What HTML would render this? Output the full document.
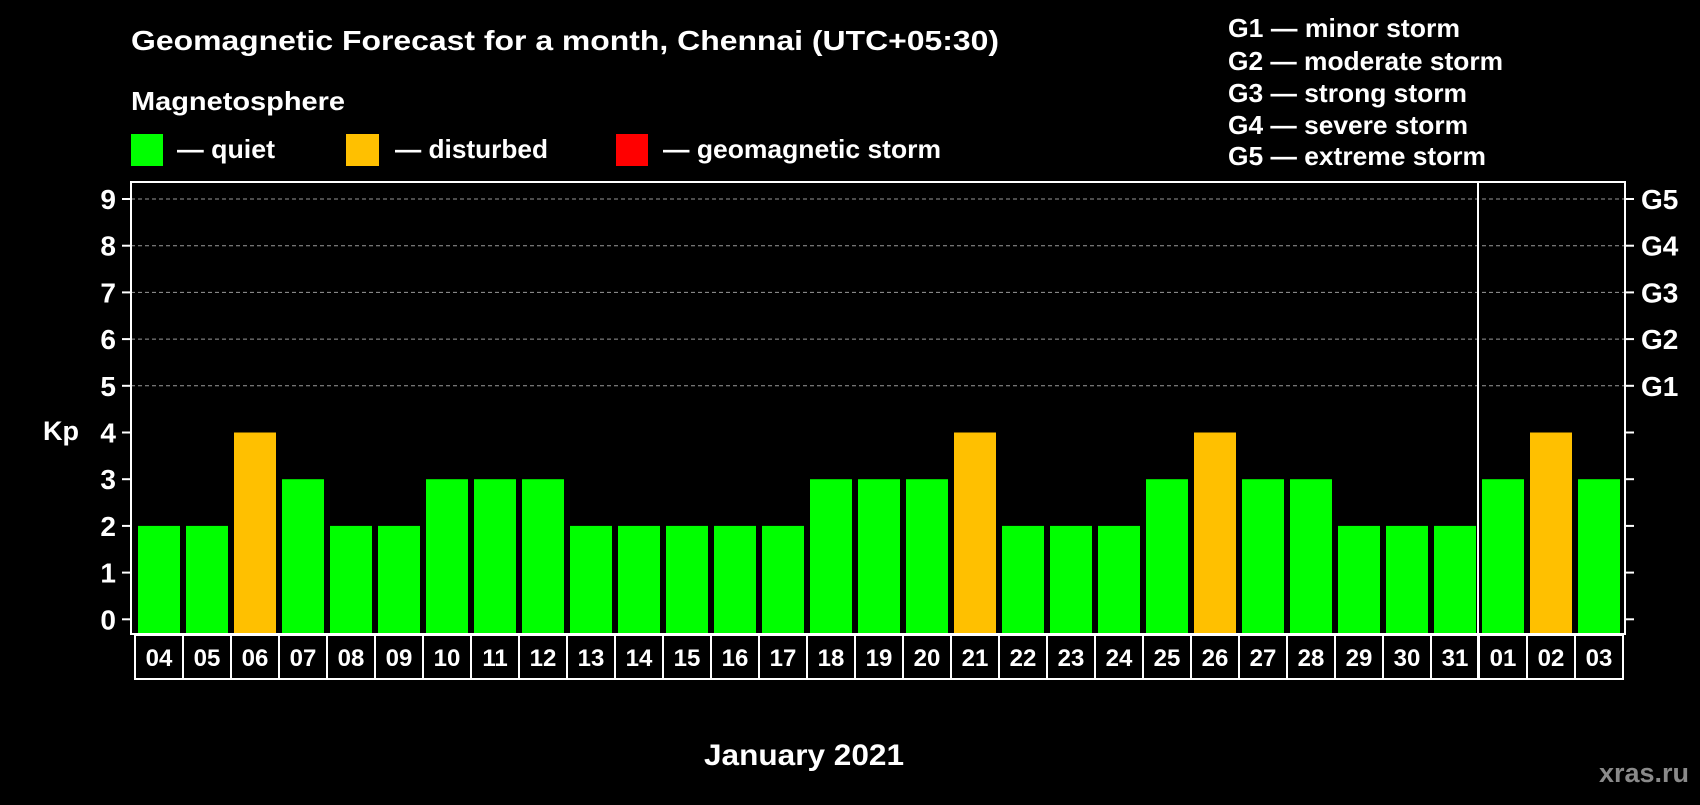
<!DOCTYPE html>
<html><head><meta charset="utf-8"><style>
body{margin:0;background:#000;width:1700px;height:800px;overflow:hidden;font-family:"Liberation Sans",sans-serif;font-weight:bold;color:#fff}
svg text{font-family:"Liberation Sans",Arial,sans-serif;font-weight:bold;fill:#fff}
</style></head><body>
<svg width="1700" height="800">
<text x="131" y="50" font-size="28" textLength="868" lengthAdjust="spacingAndGlyphs">Geomagnetic Forecast for a month, Chennai (UTC+05:30)</text>
<text x="131" y="110" font-size="26" textLength="214" lengthAdjust="spacingAndGlyphs">Magnetosphere</text>
<rect x="131" y="134" width="32" height="32" fill="#00ff00"/>
<text x="177" y="158" font-size="26" textLength="98" lengthAdjust="spacingAndGlyphs">— quiet</text>
<rect x="346" y="134" width="33" height="32" fill="#ffc000"/>
<text x="395" y="158" font-size="26" textLength="153" lengthAdjust="spacingAndGlyphs">— disturbed</text>
<rect x="616" y="134" width="32" height="32" fill="#ff0000"/>
<text x="663" y="158" font-size="26" textLength="278" lengthAdjust="spacingAndGlyphs">— geomagnetic storm</text>
<g font-size="26">
<text x="1228" y="37" textLength="232" lengthAdjust="spacingAndGlyphs">G1 — minor storm</text>
<text x="1228" y="70" textLength="275" lengthAdjust="spacingAndGlyphs">G2 — moderate storm</text>
<text x="1228" y="102" textLength="239" lengthAdjust="spacingAndGlyphs">G3 — strong storm</text>
<text x="1228" y="134" textLength="240" lengthAdjust="spacingAndGlyphs">G4 — severe storm</text>
<text x="1228" y="165" textLength="258" lengthAdjust="spacingAndGlyphs">G5 — extreme storm</text>
</g>
<text x="43" y="440" font-size="27">Kp</text>
<text x="804" y="765" font-size="30" text-anchor="middle" textLength="200" lengthAdjust="spacingAndGlyphs">January 2021</text>
<text x="1689" y="782" font-size="27" text-anchor="end" style="fill:#8a8a8a">xras.ru</text>
<g id="grid"></g><g id="bars"></g><g id="axes"></g>
</svg>
<script>
const days=["04","05","06","07","08","09","10","11","12","13","14","15","16","17","18","19","20","21","22","23","24","25","26","27","28","29","30","31","01","02","03"];
const kp=[2,2,4,3,2,2,3,3,3,2,2,2,2,2,3,3,3,4,2,2,2,3,4,3,3,2,2,2,3,4,3];
const yTicks=[0,1,2,3,4,5,6,7,8,9];
const gLabels=["G1","G2","G3","G4","G5"];
const NS="http://www.w3.org/2000/svg";
const L=131,R=1625,T=182,B=634,x0=135,slot=48;
function y(v){return 619.3-v*46.7;}
function x(i){return x0+i*slot;}
function mk(t,a,p){const e=document.createElementNS(NS,t);for(const k in a)e.setAttribute(k,a[k]);p.appendChild(e);return e;}
const grid=document.getElementById('grid'),bars=document.getElementById('bars'),axes=document.getElementById('axes');
yTicks.forEach(v=>{
 if(v>=5){const g=mk('line',{x1:L,x2:R,y1:y(v),y2:y(v),stroke:'#999','stroke-dasharray':'4 3','stroke-width':1},grid);
 
 }
 const t=mk('line',{x1:122,x2:L,y1:y(v),y2:y(v),stroke:'#fff','stroke-width':2},axes);
 
 
 const t2=mk('line',{x1:R,x2:1634,y1:y(v),y2:y(v),stroke:'#fff','stroke-width':2},axes);
 
 
 const lb=mk('text',{x:116,y:y(v)+10,'font-size':28,'text-anchor':'end'},axes);lb.textContent=v;
 
 
});
gLabels.forEach((g,i)=>{const lb=mk('text',{x:1641,y:y(5+i)+10,'font-size':28},axes);lb.textContent=g;
 
 });
kp.forEach((v,i)=>{
 const b=mk('rect',{x:x(i)+3,y:y(v),width:42,height:B-y(v),fill:v>=5?'#ff0000':v>=4?'#ffc000':'#00ff00'},bars);
 
 
 const bx=mk('rect',{x:x(i),y:635,width:slot,height:44,fill:'none',stroke:'#fff','stroke-width':2},axes);
 
 
 const lb=mk('text',{x:x(i)+slot/2,y:666,'font-size':24,'text-anchor':'middle'},axes);lb.textContent=days[i];
 
 
});
const fr=mk('rect',{x:L,y:T,width:R-L,height:B-T,fill:'none',stroke:'#fff','stroke-width':2},axes);


const mi=days.indexOf("01");
const dv=mk('line',{x1:x(mi)-1,x2:x(mi)-1,y1:T,y2:679,stroke:'#fff','stroke-width':2},axes);


</script>
</body></html>
